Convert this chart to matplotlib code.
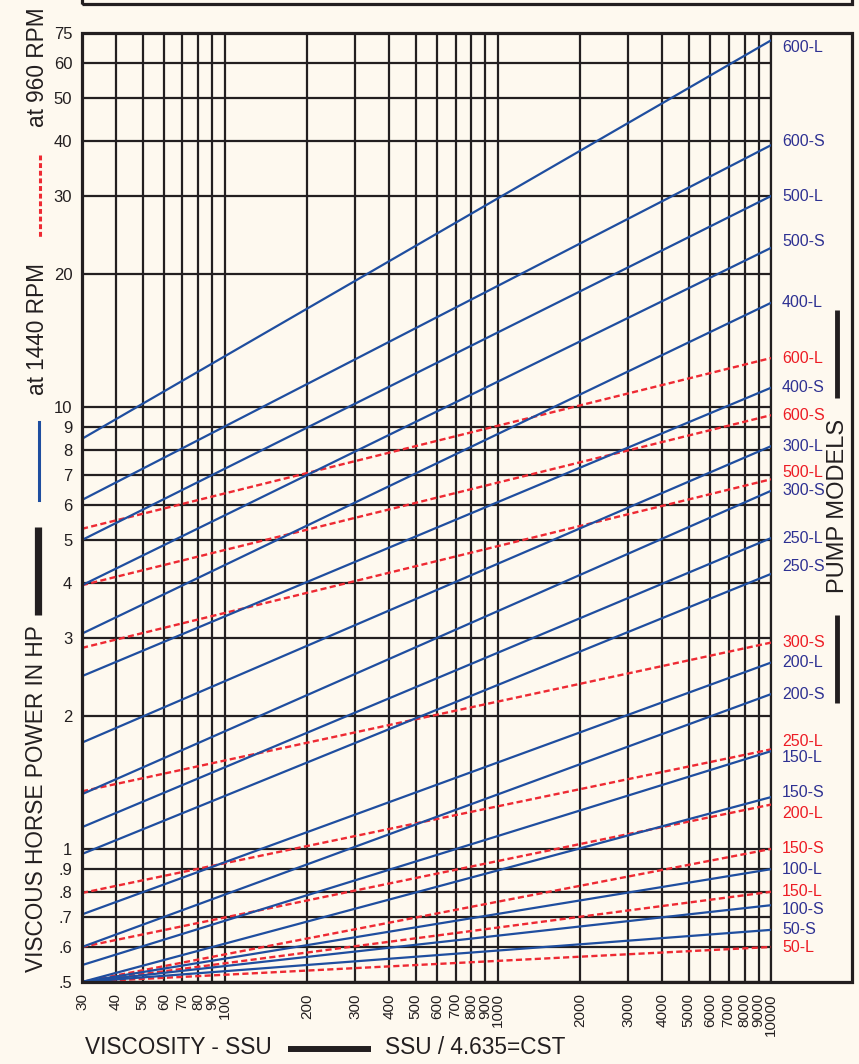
import numpy as np
import matplotlib
matplotlib.use('Agg')
import matplotlib.pyplot as plt
from matplotlib.patches import Rectangle
from matplotlib.lines import Line2D

W, H = 859, 1064

# viscosity range (SSU) over which every curve is drawn
visc_ends = [30, 10000]

# 1440 RPM curves (solid blue): HP at 30 SSU and at 10000 SSU
blue_models = ['600-L', '600-S', '500-L', '500-S', '400-L', '400-S', '300-L', '300-S',
               '250-L', '250-S', '200-L', '200-S', '150-L', '150-S', '100-L', '100-S', '50-S']
blue_hp_30 = [8.47, 6.16, 5.0, 3.95, 3.07, 2.46, 1.74, 1.33,
              1.12, 0.974, 0.711, 0.6, 0.546, 0.5, 0.5, 0.5, 0.5]
blue_hp_10000 = [71.0, 39.1, 30.0, 22.9, 17.2, 11.05, 8.15, 6.46,
                 5.05, 4.19, 2.64, 2.24, 1.664, 1.31, 0.9, 0.746, 0.656]

# 960 RPM curves (dashed red)
red_models = ['600-L', '600-S', '500-L', '300-S', '250-L', '200-L', '150-S', '150-L', '50-L']
red_hp_30 = [5.30, 3.95, 2.85, 1.35, 0.795, 0.6, 0.5, 0.5, 0.5]
red_hp_10000 = [12.9, 9.58, 6.86, 2.93, 1.68, 1.26, 1.0, 0.8, 0.6]

x_ticks = [30, 40, 50, 60, 70, 80, 90, 100, 200, 300, 400, 500, 600, 700, 800, 900,
           1000, 2000, 3000, 4000, 5000, 6000, 7000, 8000, 9000, 10000]
y_ticks = [0.5, 0.6, 0.7, 0.8, 0.9, 1, 2, 3, 4, 5, 6, 7, 8, 9, 10, 20, 30, 40, 50, 60, 75]
y_tick_labels = ['.5', '.6', '.7', '.8', '.9', '1', '2', '3', '4', '5', '6', '7', '8', '9',
                 '10', '20', '30', '40', '50', '60', '75']

# small vertical nudges (pixels, + = down) for crowded labels on the right
blue_nudge = {'600-L': 7, '600-S': -4, '500-S': -6, '250-S': -7, '150-L': 6, '150-S': -5, '100-S': 4}
red_nudge = {'500-L': -7, '250-L': -8, '200-L': 9}

BG = '#fef9ef'
INK = '#231f20'
BLUE = '#1f4e9f'
RED = '#ee2a33'
BLUE_TXT = '#2e3192'
RED_TXT = '#ed1c24'

plt.rcParams['font.family'] = ['Liberation Sans', 'DejaVu Sans']

# the chart's log scale is squeezed above 60 HP (the 60..75 band is short)
KNEE = np.log10(60)
SQUEEZE = 0.7


def hp_forward(y):
    lg = np.log10(np.clip(np.asarray(y, dtype=float), 1e-6, None))
    return np.where(lg > KNEE, KNEE + (lg - KNEE) * SQUEEZE, lg)


def hp_inverse(v):
    v = np.asarray(v, dtype=float)
    return np.where(v > KNEE, 10 ** (KNEE + (v - KNEE) / SQUEEZE), 10 ** v)


def fx(x):
    return x / W


def fy(y):
    return 1 - y / H


fig = plt.figure(figsize=(W / 100, H / 100), dpi=100, facecolor=BG)

left, right, top, bottom = 82, 771, 33, 982
ax = fig.add_axes([fx(left), fy(bottom), (right - left) / W, (bottom - top) / H])
ax.set_facecolor(BG)
ax.set_xscale('log')
ax.set_yscale('function', functions=(hp_forward, hp_inverse))
ax.set_xlim(30, 10000)
ax.set_ylim(0.5, 75)

ax.set_xticks(x_ticks)
ax.set_xticklabels([str(v) for v in x_ticks], rotation=90, fontsize=11, color=INK)
ax.set_yticks(y_ticks)
ax.set_yticklabels(y_tick_labels, fontsize=12, color=INK)
ax.minorticks_off()
ax.tick_params(axis='both', length=0)
ax.tick_params(axis='x', pad=8)
ax.tick_params(axis='y', pad=7)

ax.grid(True, color=INK, lw=1.6)
ax.set_axisbelow(True)
for side in ['left', 'top', 'bottom']:
    ax.spines[side].set_visible(False)
ax.spines['right'].set_color(INK)
ax.spines['right'].set_linewidth(1.6)

for name, a, b in zip(red_models, red_hp_30, red_hp_10000):
    ax.plot(visc_ends, [a, b], color=RED, lw=1.7, linestyle=(0, (2.6, 1.4)), zorder=3)
    ax.annotate(name, xy=(10000, b), xytext=(8, -red_nudge.get(name, 0) * 0.72),
                textcoords='offset points', va='center', ha='left', fontsize=11.5,
                color=RED_TXT, annotation_clip=False)

for name, a, b in zip(blue_models, blue_hp_30, blue_hp_10000):
    ax.plot(visc_ends, [a, b], color=BLUE, lw=1.6, zorder=4)
    ax.annotate(name, xy=(10000, b), xytext=(8, -blue_nudge.get(name, 0) * 0.72),
                textcoords='offset points', va='center', ha='left', fontsize=11.5,
                color=BLUE_TXT, annotation_clip=False)

# outer frame and the box above it
fig.patches.append(Rectangle((fx(82), fy(982)), (852 - 82) / W, (982 - 33) / H,
                             transform=fig.transFigure, fill=False, lw=2.3,
                             edgecolor=INK, zorder=10))
fig.patches.append(Rectangle((fx(82), fy(4)), (852 - 82) / W, 0.2,
                             transform=fig.transFigure, fill=False, lw=2.3,
                             edgecolor=INK, zorder=10))

# left side titles and legend marks
fig.text(fx(38), fy(67), 'at 960 RPM', rotation=90, ha='center', va='center',
         fontsize=16.3, color=INK)
fig.lines.append(Line2D([fx(40), fx(40)], [fy(155), fy(237)], transform=fig.transFigure,
                        color=RED, lw=2.2, linestyle=(0, (1.6, 0.9))))
fig.text(fx(38), fy(329), 'at 1440 RPM', rotation=90, ha='center', va='center',
         fontsize=16.3, color=INK)
fig.lines.append(Line2D([fx(39), fx(39)], [fy(422), fy(500)], transform=fig.transFigure,
                        color=BLUE, lw=2.2))
fig.lines.append(Line2D([fx(37.5), fx(37.5)], [fy(527), fy(615)], transform=fig.transFigure,
                        color=INK, lw=5.2, solid_capstyle='butt'))
fig.text(fx(37), fy(799), 'VISCOUS HORSE POWER IN HP', rotation=90, ha='center',
         va='center', fontsize=16.3, color=INK)

# right side title
fig.text(fx(838), fy(506), 'PUMP MODELS', rotation=90, ha='center', va='center',
         fontsize=17, color=INK)
fig.lines.append(Line2D([fx(837), fx(837)], [fy(310), fy(398)], transform=fig.transFigure,
                        color=INK, lw=3.5, solid_capstyle='butt'))
fig.lines.append(Line2D([fx(837), fx(837)], [fy(615), fy(703)], transform=fig.transFigure,
                        color=INK, lw=3.5, solid_capstyle='butt'))

# bottom title
fig.text(fx(85), fy(1048), 'VISCOSITY - SSU', ha='left', va='center', fontsize=16.3, color=INK)
fig.lines.append(Line2D([fx(288), fx(371)], [fy(1049), fy(1049)], transform=fig.transFigure,
                        color=INK, lw=4.3, solid_capstyle='butt'))
fig.text(fx(385), fy(1048), 'SSU / 4.635=CST', ha='left', va='center', fontsize=16.3, color=INK)

fig.savefig('out.png', dpi=100, facecolor=BG)
